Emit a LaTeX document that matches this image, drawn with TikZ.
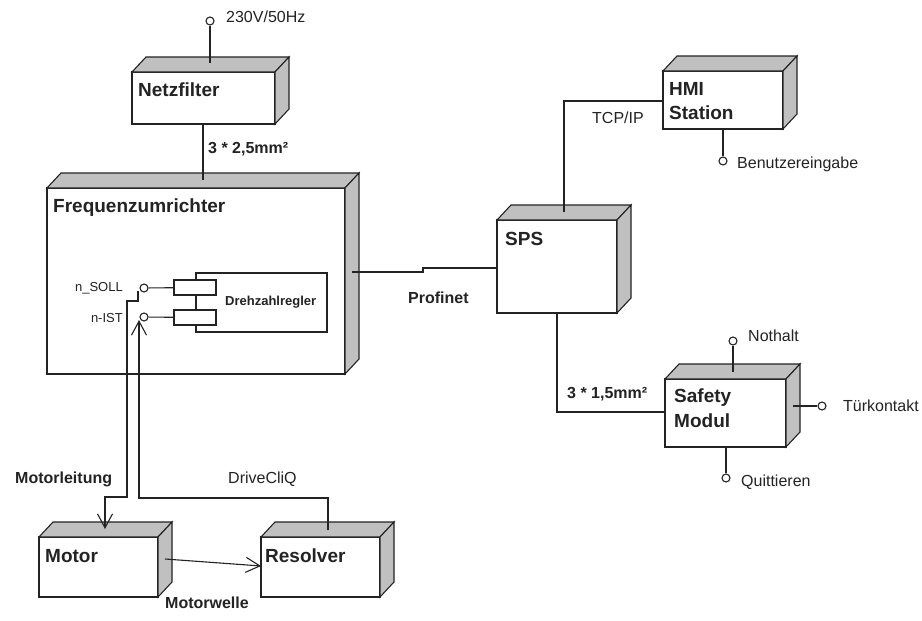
\documentclass[tikz,border=0pt]{standalone}
\usepackage{fontspec}
\setmainfont{Liberation Sans}
\usetikzlibrary{arrows.meta,calc}
\definecolor{linec}{RGB}{35,35,35}
\definecolor{facegray}{RGB}{192,192,192}
\newcommand{\cubefaces}[1]{%
  \filldraw[face] (#1.north west) -- ++(14,-15) -- ($(#1.north east)+(14,-15)$) -- (#1.north east) -- cycle;
  \filldraw[face] (#1.north east) -- ++(14,-15) -- ($(#1.south east)+(14,-15)$) -- (#1.south east) -- cycle;
}
\tikzset{
  face/.style={draw=linec, fill=facegray, line width=1.1pt, line join=miter},
  cube/.style={draw=linec, fill=white, line width=1.1pt, inner sep=0pt, outer sep=0pt, anchor=north west},
  conn/.style={draw=linec, line width=1.1pt},
  arr/.style={conn, -{Straight Barb[length=14pt,width=15pt,line width=1.1pt]}},
  pin/.style={circle, draw=linec, fill=white, line width=1.1pt, minimum size=8pt, inner sep=0pt},
  port/.style={draw=linec, fill=white, line width=1.1pt, inner sep=0pt, outer sep=0pt, anchor=north west},
  txt/.style={inner sep=0pt, anchor=base west, text=linec},
  title/.style={txt, font=\fontsize{19}{22}\selectfont\bfseries},
  blab/.style={txt, font=\fontsize{16}{19}\selectfont\bfseries},
  rlab/.style={txt, font=\fontsize{16}{19}\selectfont},
  slab/.style={txt, font=\fontsize{13}{15}\selectfont},
}
\begin{document}
\begin{tikzpicture}[x=1pt,y=-1pt]
\useasboundingbox[fill=white] (0,0) rectangle (922,621);

% boxes
\node[cube, minimum width=143pt, minimum height=52pt] (netz) at (132,72) {};
\cubefaces{netz}
\node[cube, minimum width=298pt, minimum height=186pt] (fu) at (47,188) {};
\cubefaces{fu}
\node[cube, minimum width=119pt, minimum height=60pt] (motor) at (39,537) {};
\cubefaces{motor}
\node[cube, minimum width=119pt, minimum height=60pt] (resolver) at (261,537) {};
\cubefaces{resolver}
\node[cube, minimum width=120pt, minimum height=58pt] (hmi) at (663,71) {};
\cubefaces{hmi}
\node[cube, minimum width=120pt, minimum height=93pt] (sps) at (497,220) {};
\cubefaces{sps}
\node[cube, minimum width=121pt, minimum height=68pt] (safety) at (665,379) {};
\cubefaces{safety}

% component inside Frequenzumrichter
\node[cube, minimum width=131pt, minimum height=59pt] (dr) at (196,273) {};
\node[port, minimum width=42pt, minimum height=15pt] (port1) at (174,280) {};
\node[port, minimum width=42pt, minimum height=15pt] (port2) at (174,310) {};
\node[pin] (soll) at (144,288) {};
\node[pin] (ist) at (144,317) {};
\draw[conn] (soll) -- (port1);
\draw[conn] (ist) -- (port2);

% titles
\node[title] (netzT) at (138,96) {Netzfilter};
\node[title] (fuT) at (53,212) {Frequenzumrichter};
\node[title] (motorT) at (45,562) {Motor};
\node[title] (resT) at (265,562) {Resolver};
\node[title] (hmiT1) at (669,95) {HMI};
\node[title] (hmiT2) at (669,119) {Station};
\node[title] (spsT) at (505,245) {SPS};
\node[title] (safT1) at (674,402) {Safety};
\node[title] (safT2) at (674,427) {Modul};
\node[txt, font=\fontsize{13}{15}\selectfont\bfseries] (drT) at (225,305) {Drehzahlregler};

% pins
\node[pin] (p230) at (210,21) {};
\coordinate (netzTop) at (210,63);
\draw[conn] (p230) -- (netzTop);
\node[rlab] (l230) at (226,22) {230V/50Hz};

\node[pin] (pBen) at (723,161) {};
\draw[conn] (pBen) -- (hmi.south -| pBen);
\node[rlab] (lBen) at (737,168) {Benutzereingabe};

\node[pin] (pNot) at (733,341) {};
\coordinate (safTop) at (733,372);
\draw[conn] (pNot) -- (safTop);
\node[rlab] (lNot) at (748,341) {Nothalt};

\node[pin] (pTuer) at (822,406) {};
\coordinate (safRight) at (793,406);
\draw[conn] (pTuer) -- (safRight);
\node[rlab] (lTuer) at (843,411) {Türkontakt};

\node[pin] (pQuit) at (726,478) {};
\draw[conn] (pQuit) -- (safety.south -| pQuit);
\node[rlab] (lQuit) at (741,486) {Quittieren};

\node[slab] (lSoll) at (123,291) [anchor=base east] {n\_SOLL};
\node[slab] (lIst) at (123,322) [anchor=base east] {n-IST};

% connectors
\coordinate (fuTop) at (203,180);
\draw[conn] (netz.south -| fuTop) -- (fuTop);
\node[blab] (l25) at (208,153) {3 * 2,5mm²};

\coordinate (fuRight) at (352,272);
\draw[conn] (fuRight) -- (423,272) -- (423,268) -- (sps.west |- 0,268);
\node[blab] (lProf) at (408,303) {Profinet};

\coordinate (spsTop) at (564,212);
\draw[conn] (spsTop) |- (hmi.west |- 0,101);
\node[rlab] (lTcp) at (592,123) {TCP/IP};

\coordinate (spsBot) at (557,313);
\draw[conn] (spsBot) |- (safety.west |- 0,412);
\node[blab] (l15) at (567,398) {3 * 1,5mm²};

\coordinate (sollStart) at (138,291);
\coordinate (motorTop) at (105,529);
\draw[arr] (sollStart) |- (127,301) -- (127,497) -| (motorTop);
\node[blab] (lMl) at (15,483) {Motorleitung};

\coordinate (resTop) at (328,530);
\coordinate (istEnd) at (139,320);
\draw[arr] (resTop) |- (139,498) -- (istEnd);
\node[rlab] (lDc) at (228,483) {DriveCliQ};

\coordinate (motorRight) at (165,559);
\draw[arr] (motorRight) -- (resolver.west |- 0,566);
\node[blab] (lMw) at (165,608) {Motorwelle};
\end{tikzpicture}
\end{document}
